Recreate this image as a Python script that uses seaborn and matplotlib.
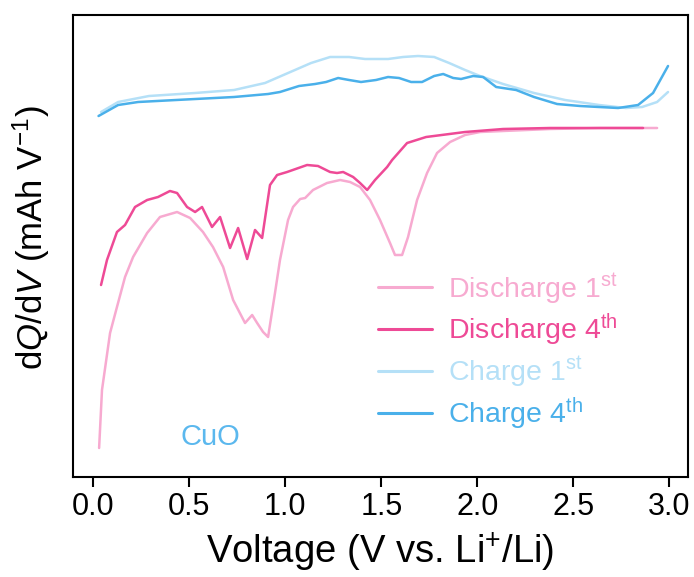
import numpy as np
import pandas as pd
import matplotlib
matplotlib.use("Agg")
import matplotlib.pyplot as plt
import seaborn as sns

# ---- data (dQ/dV in arbitrary units) ----
dis1_v = [0.030, 0.045, 0.087, 0.123, 0.165, 0.207, 0.280, 0.347, 0.436, 0.504, 0.571, 0.623, 0.676,
          0.728, 0.790, 0.827, 0.853, 0.884, 0.910, 0.946, 0.972, 1.014, 1.040, 1.077, 1.103, 1.144,
          1.217, 1.285, 1.337, 1.389, 1.441, 1.493, 1.545, 1.571, 1.608, 1.639, 1.686, 1.738, 1.790,
          1.858, 1.936, 2.014, 2.134, 2.379, 2.639, 2.936]
dis1_q = [29, 87, 144, 170, 200, 220, 244, 260, 265, 259, 245, 230, 210,
          177, 154, 162, 154, 145, 140, 184, 217, 257, 270, 278, 279, 287,
          294, 297, 295, 290, 277, 257, 234, 222, 222, 240, 277, 304, 324,
          335, 342, 345, 346, 348, 349, 349]

dis4_v = [0.040, 0.071, 0.123, 0.165, 0.217, 0.280, 0.337, 0.399, 0.436, 0.488, 0.530, 0.566, 0.618,
          0.660, 0.712, 0.754, 0.801, 0.842, 0.879, 0.920, 0.957, 1.009, 1.113, 1.170, 1.233, 1.269,
          1.301, 1.353, 1.389, 1.426, 1.467, 1.530, 1.556, 1.634, 1.733, 1.936, 2.134, 2.379, 2.863]
dis4_q = [192, 217, 245, 252, 270, 277, 280, 286, 284, 270, 265, 270, 250,
          260, 229, 249, 218, 247, 239, 292, 302, 305, 312, 311, 305, 304,
          305, 300, 294, 287, 297, 310, 317, 334, 340, 345, 348, 349, 349]

chg1_v = [0.040, 0.129, 0.290, 0.530, 0.733, 0.894, 1.014, 1.134, 1.233, 1.332, 1.415, 1.535, 1.613,
          1.691, 1.775, 1.853, 1.936, 2.014, 2.134, 2.295, 2.457, 2.634, 2.774, 2.858, 2.936, 2.993]
chg1_q = [365, 375, 381, 384, 387, 394, 404, 414, 420, 420, 418, 418, 420,
          421, 420, 414, 407, 401, 393, 384, 377, 372, 369, 370, 375, 385]

chg4_v = [0.027, 0.129, 0.233, 0.431, 0.733, 0.910, 0.972, 1.071, 1.155, 1.212, 1.275, 1.332, 1.394,
          1.472, 1.535, 1.592, 1.655, 1.712, 1.775, 1.822, 1.874, 1.915, 1.978, 2.030, 2.098, 2.202,
          2.295, 2.415, 2.535, 2.634, 2.733, 2.837, 2.915, 2.993]
chg4_q = [361, 372, 375, 377, 380, 383, 385, 391, 393, 395, 399, 397, 395,
          397, 400, 399, 395, 395, 401, 403, 399, 398, 401, 400, 390, 387,
          380, 373, 371, 370, 369, 372, 384, 411]

labels = ["Discharge 1$^{\\mathrm{st}}$", "Discharge 4$^{\\mathrm{th}}$",
          "Charge 1$^{\\mathrm{st}}$", "Charge 4$^{\\mathrm{th}}$"]
colors = ["#F7AAD0", "#EE4A96", "#B5E0F7", "#4AB0EA"]
xticks = [0.0, 0.5, 1.0, 1.5, 2.0, 2.5, 3.0]

# ---- style ----
sns.set_style("ticks")
plt.rcParams["font.family"] = ["Liberation Sans", "DejaVu Sans"]
plt.rcParams["mathtext.fontset"] = "custom"
plt.rcParams["mathtext.rm"] = "Liberation Sans"
plt.rcParams["mathtext.it"] = "Liberation Sans:italic"
plt.rcParams["mathtext.bf"] = "Liberation Sans:bold"
plt.rcParams["text.color"] = "black"
plt.rcParams["axes.labelcolor"] = "black"
plt.rcParams["xtick.color"] = "black"

fig = plt.figure(figsize=(6.94, 5.77), dpi=100)
ax = fig.add_axes([73 / 694, 100 / 577, 615 / 694, 462 / 577])

series = [(dis1_v, dis1_q), (dis4_v, dis4_q), (chg1_v, chg1_q), (chg4_v, chg4_q)]
for (v, q), lab, col in zip(series, labels, colors):
    df = pd.DataFrame({"V": v, "dQdV": q})
    sns.lineplot(data=df, x="V", y="dQdV", ax=ax, color=col, lw=1.8, label=lab,
                 sort=False, estimator=None)
for ln in ax.get_lines():
    ln.set_solid_joinstyle("round")
    ln.set_solid_capstyle("round")

ax.set_xlim(-0.106, 3.097)
ax.set_ylim(0, 462)
ax.set_xticks(xticks)
ax.set_xticklabels([f"{t:.1f}" for t in xticks])
ax.set_yticks([])
ax.tick_params(axis="x", direction="out", length=7, width=1.5, labelsize=22, pad=4,
               color="black", labelcolor="black")
for s in ax.spines.values():
    s.set_linewidth(1.5)
    s.set_color("black")

ax.set_xlabel("Voltage (V vs. Li$^{+}$/Li)", fontsize=27.5, labelpad=6, color="black")
ax.set_ylabel("d$Q$/d$V$ (mAh V$^{\u2212 1}$)", fontsize=25, color="black")
ax.yaxis.set_label_coords(-0.068, 0.517)
ax.yaxis.label.set_va("center")

ax.text(0.61, 40, "CuO", color="#5BB8EE", fontsize=21, ha="center", va="center")

leg = ax.legend(loc="upper left", bbox_to_anchor=(0.496, 0.445), frameon=False,
                fontsize=20.5, handlelength=1.9, handletextpad=0.55, labelspacing=0.22,
                borderpad=0, borderaxespad=0, labelcolor="linecolor")
for h in leg.get_lines():
    h.set_linewidth(2.2)

fig.savefig("out.png", dpi=100)
